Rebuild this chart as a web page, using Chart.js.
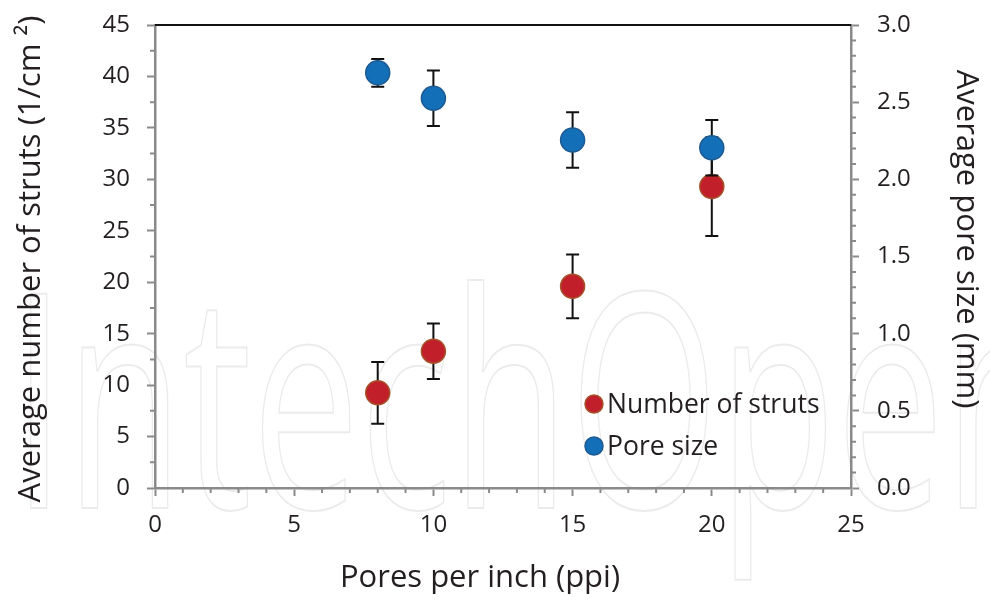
<!DOCTYPE html>
<html>
<head>
  <title>Struts and pore size</title>
  <style>
    body { margin: 0; background: #fff; }
    #wrap { width: 990px; height: 600px; position: relative; }
  </style>
</head>
<body>
  <div id="wrap"><canvas id="chart"></canvas></div>

  <script src="https://cdn.jsdelivr.net/npm/chart.js"></script>
  <script>
    // pores per inch of the foams
    const ppi = [8, 10, 15, 20];
    // average number of struts (1/cm2) and its standard deviation
    const strutCount = [9.25, 13.3, 19.6, 29.3];
    const strutErr = [3.0, 2.7, 3.1, 4.8];
    // average pore size (mm) and its standard deviation
    const poreSize = [2.69, 2.525, 2.255, 2.205];
    const poreErr = [0.09, 0.18, 0.18, 0.18];

    const textColor = '#231f20';
    const axisGray = '#8a8a8a';
    const family = '"Open Sans", "DejaVu Sans", sans-serif';

    function points(ys) {
      return ppi.map((x, i) => ({ x: x, y: ys[i] }));
    }

    // major ticks are drawn by Chart.js, minor ones are hidden there and drawn shorter below
    function isMajor(v, step) {
      const r = v / step;
      return Math.abs(r - Math.round(r)) < 1e-6;
    }

    // faint background lettering
    const watermark = {
      id: 'watermark',
      beforeDraw(chart) {
        const ctx = chart.ctx;
        ctx.save();
        ctx.font = '400 300px ' + family;
        ctx.strokeStyle = '#ebebeb';
        ctx.lineWidth = 2;
        ctx.translate(12, 508);
        ctx.scale(0.64, 1);
        ctx.strokeText('IntechOpen', 0, 0);
        ctx.restore();
      }
    };

    // whiskers go under the markers of the same dataset
    const errorBars = {
      id: 'errorBars',
      beforeDatasetDraw(chart, args) {
        const ds = chart.data.datasets[args.index];
        if (!ds.errors) return;
        const yScale = chart.scales[args.meta.yAxisID];
        const ctx = chart.ctx;
        ctx.save();
        ctx.strokeStyle = '#111';
        ctx.lineWidth = 2;
        ds.data.forEach((p, i) => {
          const x = chart.scales.x.getPixelForValue(p.x);
          const top = yScale.getPixelForValue(p.y + ds.errors[i]);
          const bot = yScale.getPixelForValue(p.y - ds.errors[i]);
          ctx.beginPath();
          ctx.moveTo(x, top); ctx.lineTo(x, bot);
          ctx.moveTo(x - 6.5, top); ctx.lineTo(x + 6.5, top);
          ctx.moveTo(x - 6.5, bot); ctx.lineTo(x + 6.5, bot);
          ctx.stroke();
        });
        ctx.restore();
      }
    };

    // top frame line, minor ticks, axis titles and the legend
    const decor = {
      id: 'decor',
      afterDraw(chart) {
        const ctx = chart.ctx;
        const a = chart.chartArea;
        const sx = chart.scales.x, sy = chart.scales.y, sy2 = chart.scales.y2;
        ctx.save();
        ctx.strokeStyle = '#111';
        ctx.lineWidth = 2;
        ctx.beginPath();
        ctx.moveTo(a.left, a.top);
        ctx.lineTo(a.right, a.top);
        ctx.stroke();

        ctx.strokeStyle = axisGray;
        ctx.lineWidth = 2;
        ctx.beginPath();
        sx.ticks.forEach(t => {
          if (isMajor(t.value, 5)) return;
          const x = sx.getPixelForValue(t.value);
          ctx.moveTo(x, a.bottom); ctx.lineTo(x, a.bottom + 5);
        });
        sy.ticks.forEach(t => {
          if (isMajor(t.value, 5)) return;
          const y = sy.getPixelForValue(t.value);
          ctx.moveTo(a.left, y); ctx.lineTo(a.left - 5, y);
        });
        sy2.ticks.forEach(t => {
          if (isMajor(t.value, 0.5)) return;
          const y = sy2.getPixelForValue(t.value);
          ctx.moveTo(a.right, y); ctx.lineTo(a.right + 5, y);
        });
        ctx.stroke();

        ctx.fillStyle = textColor;
        ctx.font = '31px ' + family;
        ctx.textAlign = 'center';
        ctx.textBaseline = 'middle';
        ctx.fillText('Pores per inch (ppi)', 480, 578);
        ctx.save();
        ctx.translate(31, 259);
        ctx.rotate(-Math.PI / 2);
        ctx.fillText('Average number of struts (1/cm \u00b2)', 0, 0);
        ctx.restore();
        ctx.save();
        ctx.translate(966, 239);
        ctx.rotate(Math.PI / 2);
        ctx.fillText('Average pore size (mm)', 0, 0);
        ctx.restore();

        ctx.textAlign = 'left';
        ctx.font = '26.5px ' + family;
        chart.data.datasets.forEach((ds, i) => {
          const y = 404 + i * 42;
          ctx.beginPath();
          ctx.arc(594, y, 9, 0, Math.PI * 2);
          ctx.fillStyle = ds.backgroundColor;
          ctx.fill();
          ctx.lineWidth = 1.5;
          ctx.strokeStyle = ds.borderColor;
          ctx.stroke();
          ctx.fillStyle = textColor;
          ctx.fillText(ds.label, 607, y + 1);
        });
        ctx.restore();
      }
    };

    function axis(opts, majorStep) {
      return Object.assign({
        type: 'linear',
        grid: {
          drawOnChartArea: false,
          tickLength: 8,
          tickWidth: 2,
          tickColor: c => (isMajor(c.tick.value, majorStep) ? axisGray : 'rgba(0,0,0,0)')
        },
        border: { color: axisGray, width: 2.5 }
      }, opts);
    }

    // fixed box sizes so the plot area sits where it should
    function fitSide(width) {
      return s => {
        s.width = width;
        s.paddingTop = 0;
        s.paddingBottom = 0;
      };
    }

    new Chart(document.getElementById('chart'), {
      type: 'scatter',
      data: {
        datasets: [
          {
            label: 'Number of struts',
            data: points(strutCount),
            errors: strutErr,
            yAxisID: 'y',
            order: 1,
            backgroundColor: '#c1202a',
            borderColor: '#a6522a',
            borderWidth: 1.5,
            pointRadius: 12,
            pointHoverRadius: 12
          },
          {
            label: 'Pore size',
            data: points(poreSize),
            errors: poreErr,
            yAxisID: 'y2',
            order: 0,
            backgroundColor: '#136fb7',
            borderColor: '#1d5a92',
            borderWidth: 1.5,
            pointRadius: 12,
            pointHoverRadius: 12
          }
        ]
      },
      options: {
        responsive: true,
        maintainAspectRatio: false,
        animation: false,
        layout: { padding: { top: 25, left: 0, right: 0, bottom: 0 } },
        plugins: {
          legend: { display: false },
          tooltip: { enabled: false }
        },
        scales: {
          x: axis({
            min: 0,
            max: 25,
            afterFit(s) {
              s.height = 112;
              s.paddingLeft = 0;
              s.paddingRight = 0;
            },
            ticks: {
              stepSize: 1,
              autoSkip: false,
              maxRotation: 0,
              padding: 15,
              color: textColor,
              font: { family: family, size: 24 },
              callback: v => (isMajor(v, 5) ? v : '')
            }
          }, 5),
          y: axis({
            position: 'left',
            min: 0,
            max: 45,
            afterFit: fitSide(155),
            ticks: {
              stepSize: 2.5,
              autoSkip: false,
              padding: 17,
              color: textColor,
              font: { family: family, size: 24 },
              callback: v => (isMajor(v, 5) ? v : '')
            }
          }, 5),
          y2: axis({
            position: 'right',
            min: 0,
            max: 3,
            afterFit: fitSide(139),
            ticks: {
              stepSize: 0.1,
              autoSkip: false,
              padding: 18,
              color: textColor,
              font: { family: family, size: 24 },
              callback: v => (isMajor(v, 0.5) ? v.toFixed(1) : '')
            }
          }, 0.5)
        }
      },
      plugins: [watermark, errorBars, decor]
    });
  </script>
</body>
</html>
